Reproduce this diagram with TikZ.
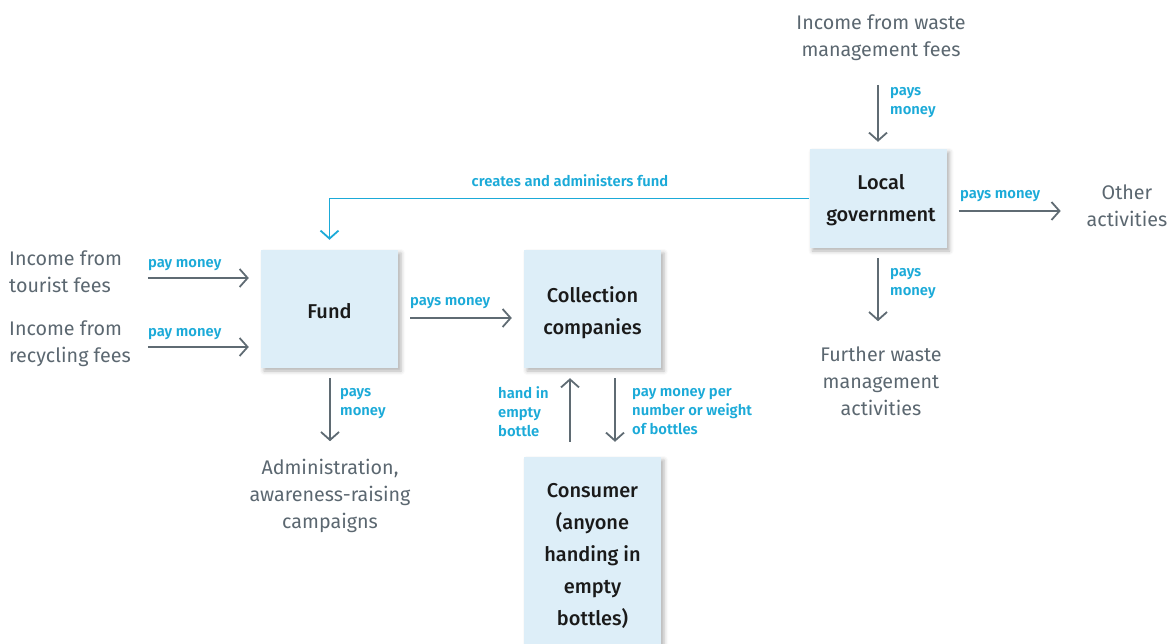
\documentclass[tikz,border=0pt]{standalone}
\usepackage{fontspec}
\setmainfont{Fira Sans}
\newfontfamily\medfont{Fira Sans Medium}
\newfontfamily\semifont{Fira Sans SemiBold}
\usetikzlibrary{arrows.meta,shadows.blur,calc}
\definecolor{txtgray}{HTML}{5B6770}
\definecolor{arrgray}{HTML}{5F6B73}
\definecolor{lblue}{HTML}{1BAAD8}
\definecolor{boxfill}{HTML}{DDEEF8}
\definecolor{boxtxt}{HTML}{1A1A1A}
\newcommand\boxbotstrut{\rule[-4.6pt]{0pt}{4.6pt}}
\newcommand\tstrut[1]{\rule{0pt}{#1}}
\tikzset{
  box/.style={draw=none, fill=boxfill, inner sep=0pt, align=center,
    text=boxtxt, font=\medfont\fontsize{20}{32}\selectfont,
    execute at end node=\boxbotstrut,
    blur shadow={shadow xshift=3pt, shadow yshift=-3pt, shadow blur radius=4pt, shadow opacity=30}},
  gtext/.style={inner sep=0pt, text=txtgray, font=\fontsize{19.7}{27}\selectfont,
    execute at begin node=\strut, execute at end node=\strut},
  lbl/.style={inner sep=0pt, text=lblue, align=left, font=\semifont\fontsize{14.8}{19}\selectfont,
    execute at begin node=\strut, execute at end node=\strut},
  arr/.style={draw=arrgray, line width=1.8pt, -{Straight Barb[length=8pt,width=18pt,line width=1.8pt]}},
  barr/.style={draw=lblue, line width=1.8pt, -{Straight Barb[length=8pt,width=18pt,line width=1.8pt]}},
}
\begin{document}
\begin{tikzpicture}[x=1pt,y=-1pt]
\useasboundingbox (0,0) rectangle (1171,644);
% boxes
\node[box, minimum width=137pt, minimum height=99pt] (lg) at (878,198.5) {\tstrut{19pt}\hspace*{6pt}Local\\\hspace*{6pt}government};
\node[box, minimum width=137pt, minimum height=118pt] (fund) at (329.5,309) {\tstrut{23.4pt}Fund};
\node[box, minimum width=137pt, minimum height=118pt] (coll) at (592.5,309) {\tstrut{23pt}Collection\\companies};
\node[box, minimum width=137pt, minimum height=192pt] (cons) at (592.5,553) {\tstrut{21pt}Consumer\\(anyone\\handing in\\empty\\bottles)};
% gray texts
\node[gtext, align=center] (waste) at (881,40) {Income from waste\\management fees};
\node[gtext, align=center] (other) at (1127,209.5) {Other\\activities};
\node[gtext, align=center] (further) at (881,385) {Further waste\\management\\activities};
\node[gtext, align=left, anchor=west] (tourist) at (9,276) {Income from\\tourist fees};
\node[gtext, align=left, anchor=west] (recyc) at (9,346) {Income from\\recycling fees};
\node[gtext, align=center] (admin) at (330,498) {Administration,\\awareness-raising\\campaigns};
% connectors
\draw[arr] ([yshift=64pt]lg.north) -- ([yshift=7pt]lg.north);
\draw[arr] ([xshift=12pt,yshift=-12.5pt]lg.east) -- ([xshift=114pt,yshift=-12.5pt]lg.east);
\draw[arr] ([yshift=-10pt]lg.south) -- ([yshift=-73pt]lg.south);
\draw[barr, shorten >=10pt] (lg.west) -| (fund.north);
\draw[arr] ([xshift=-113pt,yshift=31pt]fund.west) -- ([xshift=-12pt,yshift=31pt]fund.west);
\draw[arr] ([xshift=-113pt,yshift=-38pt]fund.west) -- ([xshift=-12pt,yshift=-38pt]fund.west);
\draw[arr] ([xshift=12pt,yshift=-9pt]fund.east) -- ([xshift=-12pt,yshift=-9pt]coll.west);
\draw[arr] ([xshift=0.5pt,yshift=-10pt]fund.south) -- ([xshift=0.5pt,yshift=-73pt]fund.south);
\draw[arr] ([xshift=-22.5pt,yshift=15pt]cons.north) -- ([xshift=-22.5pt,yshift=-10pt]coll.south);
\draw[arr] ([xshift=22.5pt,yshift=-10pt]coll.south) -- ([xshift=22.5pt,yshift=15pt]cons.north);
% labels
\node[lbl, anchor=west] (l1) at (890,104) {pays\\money};
\node[lbl, anchor=west] (l2) at (960,195) {pays money};
\node[lbl, anchor=west] (l3) at (890,284.5) {pays\\money};
\node[lbl] (l4) at (570,183) {creates and administers fund};
\node[lbl, anchor=west] (l5) at (148,264) {pay money};
\node[lbl, anchor=west] (l6) at (148,333) {pay money};
\node[lbl, anchor=west] (l7) at (410,302) {pays money};
\node[lbl, anchor=west] (l8) at (340,405) {pays\\money};
\node[lbl, anchor=west] (l9) at (498,414.5) {hand in\\empty\\bottle};
\node[lbl, anchor=west] (l10) at (632,414) {pay money per\\number or weight\\of bottles};
\end{tikzpicture}
\end{document}
